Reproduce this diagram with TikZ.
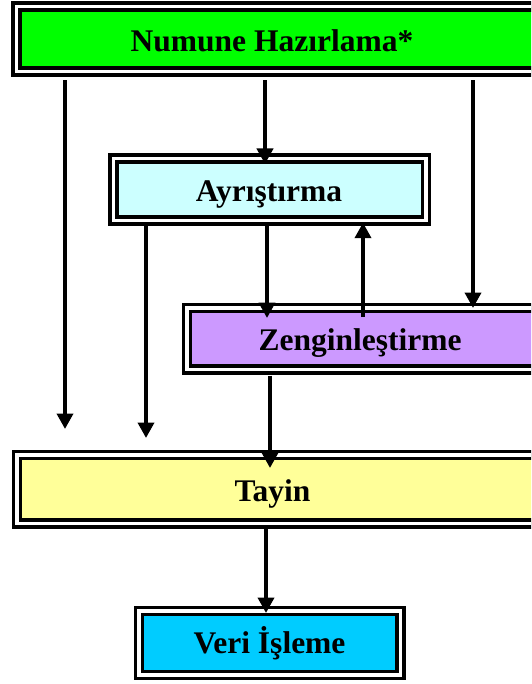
\documentclass[tikz,border=0pt]{standalone}
\usepackage{fontspec}
\setmainfont{Liberation Serif}
\usetikzlibrary{arrows.meta,calc}
\definecolor{cNum}{HTML}{00FF00}
\definecolor{cAyr}{HTML}{CCFFFF}
\definecolor{cZen}{HTML}{CC99FF}
\definecolor{cTay}{HTML}{FFFF99}
\definecolor{cVer}{HTML}{00CCFF}
\begin{document}
\begin{tikzpicture}[x=1pt,y=1pt,
  box/.style={draw=black, line width=3.8pt, double=white, double distance=3.2pt,
    rectangle, inner sep=0pt, outer sep=0pt, anchor=north west},
  lbl/.style={font=\bfseries\fontsize{31.5}{36}\selectfont, inner sep=0pt, anchor=base},
  arr/.style={line width=3.8pt, -{Triangle[width=16pt,length=15.5pt]}}]
\useasboundingbox (0,0) rectangle (531,-684);
\clip (0,0) rectangle (531,-684);
% boxes
\node[box, fill=cNum, minimum width=543.2, minimum height=64.5] (N) at (16.8,-6.7) {};
\node[box, fill=cAyr, minimum width=312.3, minimum height=61.6] (A) at (113.7,-158.7) {};
\node[box, fill=cZen, minimum width=373, minimum height=61.5] (Z) at (187,-308) {};
\node[box, fill=cTay, minimum width=543, minimum height=68.8] (T) at (17,-455) {};
\node[box, fill=cVer, minimum width=261.5, minimum height=64] (V) at (139,-611) {};
% labels
\node[lbl] (Nl) at (272,-51.7) {Numune Hazırlama*};
\node[lbl] (Al) at (269,-201.7) {Ayrıştırma};
\node[lbl] (Zl) at (360,-350) {Zenginleştirme};
\node[lbl] (Tl) at (272.5,-501.7) {Tayin};
\node[lbl] (Vl) at (269.5,-653.3) {Veri İşleme};
% connector x positions and free ends
\coordinate (f1) at (65,-429);
\coordinate (x2) at (265,0);
\coordinate (x3) at (473,0);
\coordinate (f4) at (146,-438);
\coordinate (x5) at (267,0);
\coordinate (x6) at (363,0);
\coordinate (x7) at (270,0);
\coordinate (x8) at (266,0);
% connectors
\draw[arr] ($(N.south -| f1)+(0,-9)$) -- (f1);
\draw[arr] ($(N.south -| x2)+(0,-9)$) -- ($(A.north -| x2)+(0,-5.3)$);
\draw[arr] ($(N.south -| x3)+(0,-9)$) -- (Z.north -| x3);
\draw[arr] ($(A.south -| f4)+(0,-5.5)$) -- (f4);
\draw[arr] ($(A.south -| x5)+(0,-5.5)$) -- ($(Z.north -| x5)+(0,-10)$);
\draw[arr] ($(Z.north -| x6)+(0,-9)$) -- ($(A.south -| x6)+(0,-2.4)$);
\draw[arr] ($(Z.south -| x7)+(0,-6)$) -- ($(T.north -| x7)+(0,-13)$);
\draw[arr] ($(T.south -| x8)+(0,-5.5)$) -- ($(V.north -| x8)+(0,-2)$);
\end{tikzpicture}
\end{document}
